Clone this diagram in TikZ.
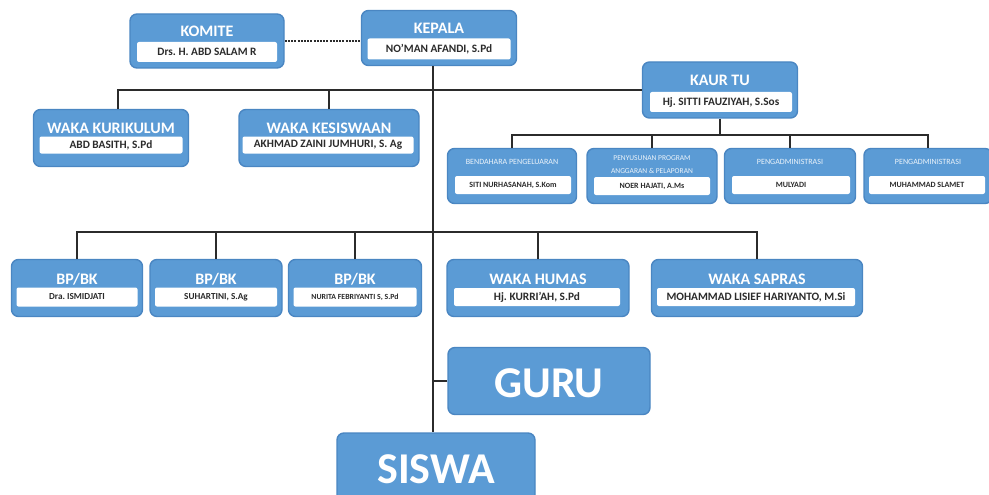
\documentclass[tikz,border=0pt]{standalone}
\usepackage{fontspec}
\setmainfont{Carlito}
\frenchspacing
\definecolor{boxblue}{HTML}{5B9BD5}
\definecolor{boxedge}{HTML}{4A86C2}
\definecolor{linecol}{HTML}{2B2B2B}
\begin{document}
\begin{tikzpicture}[x=1pt,y=-1pt,
	unit/.style={draw=boxedge,fill=boxblue,rounded corners=7pt,line width=1.4pt,inner sep=0pt},
	head/.style={text=white,inner sep=0pt,font=\bfseries\fontsize{16}{18}\selectfont},
	smallhead/.style={text=white!88!boxblue,inner sep=0pt,align=center,font=\fontsize{8}{13}\selectfont},
	namebox/.style={fill=white,rounded corners=2pt,inner sep=0pt,text=linecol,font=\bfseries\fontsize{11.3}{13}\selectfont},
	bighead/.style={text=white,inner sep=0pt,font=\bfseries\fontsize{44}{48}\selectfont},
	link/.style={draw=linecol,line width=1.8pt}]

	\useasboundingbox (0,0) rectangle (989,495);
	\clip (0,0) rectangle (989,495);

	% top
	\node[unit,minimum width=154,minimum height=54] (komite) at (207,41) {};
	\node[head] (komite-h) at (207,31) {KOMITE};
	\node[namebox,minimum width=140,minimum height=20] (komite-n) at (207,52) {Drs. H. ABD SALAM R};

	\node[unit,minimum width=155,minimum height=55] (kepala) at (439,38) {};
	\node[head] (kepala-h) at (439,28) {KEPALA};
	\node[namebox,minimum width=143,minimum height=21] (kepala-n) at (439,49) {NO'MAN AFANDI, S.Pd};

	\node[unit,minimum width=155,minimum height=56] (kaurtu) at (720,90) {};
	\node[head] (kaurtu-h) at (720,80) {KAUR TU};
	\node[namebox,minimum width=142,minimum height=20] (kaurtu-n) at (721,102) {Hj. SITTI FAUZIYAH, S.Sos};

	% waka
	\node[unit,minimum width=155,minimum height=57] (kurikulum) at (111,138) {};
	\node[head] (kurikulum-h) at (111,128) {WAKA KURIKULUM};
	\node[namebox,minimum width=143,minimum height=17] (kurikulum-n) at (111,145) {ABD BASITH, S.Pd};

	\node[unit,minimum width=180,minimum height=57] (kesiswaan) at (329,138) {};
	\node[head] (kesiswaan-h) at (329,128) {WAKA KESISWAAN};
	\node[namebox,minimum width=171,minimum height=17] (kesiswaan-n) at (328,145) {AKHMAD ZAINI JUMHURI, S. Ag};

	% tata usaha
	\node[unit,minimum width=129,minimum height=55] (bendahara) at (512,176) {};
	\node[smallhead] (bendahara-h) at (512,162) {BENDAHARA PENGELUARAN};
	\node[namebox,minimum width=116,minimum height=18,font=\bfseries\fontsize{8}{10}\selectfont] (bendahara-n) at (513,185) {SITI NURHASANAH, S.Kom};

	\node[unit,minimum width=130,minimum height=55] (penyusunan) at (652,176) {};
	\node[smallhead,font=\fontsize{7.5}{13}\selectfont] (penyusunan-h) at (652,165) {PENYUSUNAN PROGRAM\\ANGGARAN \& PELAPORAN};
	\node[namebox,minimum width=116,minimum height=18,font=\bfseries\fontsize{8}{10}\selectfont] (penyusunan-n) at (652,186) {NOER HAJATI, A.Ms};

	\node[unit,minimum width=131,minimum height=55] (admin1) at (790,176) {};
	\node[smallhead] (admin1-h) at (790,162) {PENGADMINISTRASI};
	\node[namebox,minimum width=118,minimum height=18,font=\bfseries\fontsize{8}{10}\selectfont] (admin1-n) at (791,185) {MULYADI};

	\node[unit,minimum width=128,minimum height=55] (admin2) at (928,176) {};
	\node[smallhead] (admin2-h) at (928,162) {PENGADMINISTRASI};
	\node[namebox,minimum width=116,minimum height=18,font=\bfseries\fontsize{8}{10}\selectfont] (admin2-n) at (927,185) {MUHAMMAD SLAMET};

	% bp/bk and waka
	\node[unit,minimum width=131,minimum height=57] (bpbk1) at (77,288) {};
	\node[head] (bpbk1-h) at (77,279) {BP/BK};
	\node[namebox,minimum width=121,minimum height=19,font=\bfseries\fontsize{9.2}{11}\selectfont] (bpbk1-n) at (77,297) {Dra. ISMIDJATI};

	\node[unit,minimum width=132,minimum height=57] (bpbk2) at (216,288) {};
	\node[head] (bpbk2-h) at (216,279) {BP/BK};
	\node[namebox,minimum width=122,minimum height=19,font=\bfseries\fontsize{9.2}{11}\selectfont] (bpbk2-n) at (216,297) {SUHARTINI, S.Ag};

	\node[unit,minimum width=133,minimum height=57] (bpbk3) at (355,288) {};
	\node[head] (bpbk3-h) at (355,279) {BP/BK};
	\node[namebox,minimum width=123,minimum height=19,font=\bfseries\fontsize{7.8}{9}\selectfont] (bpbk3-n) at (355,297) {NURITA FEBRIYANTI S, S.Pd};

	\node[unit,minimum width=182,minimum height=57] (humas) at (538,288) {};
	\node[head] (humas-h) at (538,279) {WAKA HUMAS};
	\node[namebox,minimum width=166,minimum height=18] (humas-n) at (537,297) {Hj. KURRI'AH, S.Pd};

	\node[unit,minimum width=211,minimum height=57] (sapras) at (757,288) {};
	\node[head] (sapras-h) at (757,279) {WAKA SAPRAS};
	\node[namebox,minimum width=198,minimum height=18] (sapras-n) at (756,297) {MOHAMMAD LISIEF HARIYANTO, M.Si};

	% guru, siswa
	\node[unit,minimum width=202,minimum height=67] (guru) at (549,381) {};
	\node[bighead] (guru-h) at (549,383) {GURU};
	\node[unit,minimum width=198,minimum height=80] (siswa) at (436,473) {};
	\node[bighead] (siswa-h) at (436,469) {SISWA};

	% lines
	\coordinate (trunk) at (433,91);
	\coordinate (lvl2) at (433,232);
	\coordinate (tu) at (720,135);

	\draw[link,dash pattern=on 2pt off 1.2pt] (komite.east) -- (komite.east -| kepala.west);
	\draw[link] (kepala.south -| trunk) -- (siswa.north -| trunk);
	\draw[link] ([xshift=7pt]kurikulum.north) |- (kaurtu.west);
	\draw[link] (kesiswaan.north) -- (kesiswaan.north |- trunk);

	\draw[link] (kaurtu.south) -- (tu);
	\draw[link] (bendahara.north) |- (tu) -| (admin2.north);
	\draw[link] (penyusunan.north) -- (penyusunan.north |- tu);
	\draw[link] (admin1.north) -- (admin1.north |- tu);

	\draw[link] (bpbk1.north) |- (lvl2) -| (sapras.north);
	\draw[link] (bpbk2.north) -- (bpbk2.north |- lvl2);
	\draw[link] (bpbk3.north) -- (bpbk3.north |- lvl2);
	\draw[link] (humas.north) -- (humas.north |- lvl2);

	\draw[link] (guru.west) -- (guru.west -| trunk);

\end{tikzpicture}
\end{document}
